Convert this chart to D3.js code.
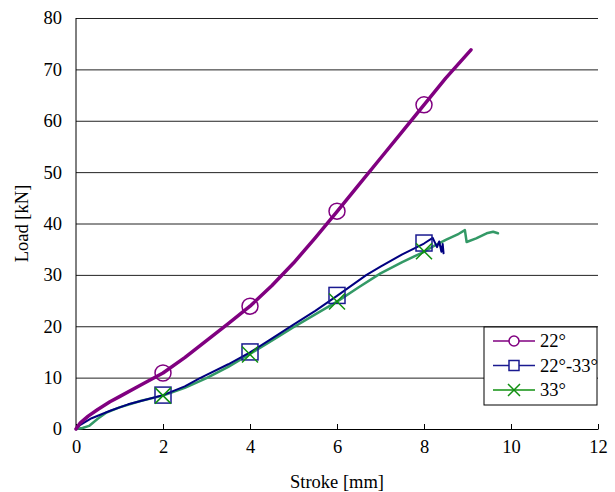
<!DOCTYPE html>
<html>
<head>
<meta charset="utf-8">
<script src="https://cdn.jsdelivr.net/npm/d3@7"></script>
<style>
  body { margin: 0; background: #fff; }
  svg text { font-family: "Liberation Serif", "Times New Roman", serif !important; }
</style>
</head>
<body>
<div id="chart"></div>
<script>
// series
const stroke22 = [0, 0.1, 0.28, 0.5, 0.78, 1.0, 1.5, 2.0, 2.5, 3.0, 3.5, 4.0, 4.5, 5.0, 5.5, 6.0, 6.5, 7.0, 7.5, 8.0, 8.5, 9.08];
const load22 = [0, 1.2, 2.5, 3.8, 5.3, 6.3, 8.6, 10.9, 13.9, 17.2, 20.5, 23.9, 27.9, 32.3, 37.2, 42.3, 47.5, 52.7, 57.9, 63.1, 68.3, 73.8];

const stroke2233 = [0, 0.1, 0.36, 0.8, 1.2, 1.6, 2.0, 2.5, 2.85, 3.5, 4.0, 4.5, 5.0, 5.5, 6.0, 6.68, 7.0, 7.5, 8.0, 8.2, 8.3, 8.35, 8.4, 8.43, 8.45];
const load2233 = [0, 0.8, 2.1, 3.6, 4.8, 5.7, 6.6, 8.3, 9.9, 12.6, 14.9, 17.6, 20.3, 23.0, 25.9, 30.0, 31.6, 34.0, 36.1, 37.2, 35.4, 36.5, 34.5, 36.0, 34.2];

const stroke33 = [0, 0.15, 0.3, 0.5, 0.7, 1.0, 1.5, 2.0, 2.5, 3.0, 3.5, 4.0, 4.5, 5.0, 5.5, 6.0, 6.5, 7.0, 7.5, 8.0, 8.2, 8.5, 8.8, 8.94, 8.98, 9.2, 9.44, 9.59, 9.7];
const load33 = [0, 0.2, 0.6, 2.0, 3.2, 4.2, 5.5, 6.5, 8.0, 9.9, 12.1, 14.6, 17.2, 19.8, 22.3, 24.8, 27.6, 30.3, 32.5, 34.5, 35.5, 36.8, 38.0, 38.7, 36.4, 37.1, 38.1, 38.4, 38.1];

const markerStroke = [2, 4, 6, 8];
const marker22 = [10.9, 23.9, 42.4, 63.1];
const marker2233 = [6.6, 15.0, 26.0, 36.2];
const marker33 = [6.5, 14.5, 24.8, 34.6];

const seriesNames = ["22°", "22°-33°", "33°"];
const xTicks = [0, 2, 4, 6, 8, 10, 12];
const yTicks = [0, 10, 20, 30, 40, 50, 60, 70, 80];

const width = 615;
const height = 492;
const margin = { top: 18, right: 17, bottom: 63, left: 76 };
const fontSize = "18.5px";

const svg = d3.select("#chart")
  .append("svg")
  .attr("width", width)
  .attr("height", height);

const x = d3.scaleLinear()
  .domain([0, 12])
  .range([margin.left, width - margin.right]);

const y = d3.scaleLinear()
  .domain([0, 80])
  .range([height - margin.bottom, margin.top]);

// gridlines + y labels
svg.append("g")
  .attr("transform", `translate(${margin.left},0)`)
  .call(d3.axisLeft(y).tickValues(yTicks).tickSize(-(width - margin.left - margin.right)).tickPadding(14))
  .call(g => g.select(".domain").remove())
  .call(g => g.selectAll(".tick line").attr("stroke", "#222"))
  .call(g => g.selectAll("text").attr("font-size", fontSize).attr("fill", "#000"));

// x axis
svg.append("g")
  .attr("transform", `translate(0,${height - margin.bottom})`)
  .call(d3.axisBottom(x).tickValues(xTicks).tickSizeInner(-5).tickSizeOuter(0).tickPadding(11))
  .call(g => g.select(".domain").attr("stroke", "#000"))
  .call(g => g.selectAll("text").attr("font-size", fontSize).attr("fill", "#000"));

// y axis line
svg.append("line")
  .attr("x1", x(0)).attr("x2", x(0))
  .attr("y1", y(0)).attr("y2", y(80))
  .attr("stroke", "#000");

const series = [
  { name: seriesNames[0], xs: stroke22, ys: load22, ms: marker22, line: "#800080", mark: "#800080", lw: 3.5, shape: "circle" },
  { name: seriesNames[1], xs: stroke2233, ys: load2233, ms: marker2233, line: "#000080", mark: "#1a1a90", lw: 2, shape: "square" },
  { name: seriesNames[2], xs: stroke33, ys: load33, ms: marker33, line: "#339966", mark: "#109010", lw: 2.5, shape: "cross" }
];

const line = d3.line().x(d => x(d[0])).y(d => y(d[1]));

// draw green first, then blue, then purple
[series[2], series[1], series[0]].forEach(s => {
  svg.append("path")
    .datum(d3.zip(s.xs, s.ys))
    .attr("fill", "none")
    .attr("stroke", s.line)
    .attr("stroke-width", s.lw)
    .attr("stroke-linejoin", "round")
    .attr("stroke-linecap", "round")
    .attr("d", line);
});

function drawMarker(g, shape, cx, cy, color) {
  if (shape === "circle") {
    g.append("circle").attr("cx", cx).attr("cy", cy).attr("r", 8)
      .attr("fill", "none").attr("stroke", color).attr("stroke-width", 1.5);
  } else if (shape === "square") {
    g.append("rect").attr("x", cx - 8).attr("y", cy - 8).attr("width", 16).attr("height", 16)
      .attr("fill", "none").attr("stroke", color).attr("stroke-width", 1.5);
  } else {
    g.append("path").attr("d", `M${cx - 8},${cy - 8}L${cx + 8},${cy + 8}M${cx - 8},${cy + 8}L${cx + 8},${cy - 8}`)
      .attr("fill", "none").attr("stroke", color).attr("stroke-width", 1.5);
  }
}

const markers = svg.append("g");
series.forEach(s => {
  markerStroke.forEach((v, i) => drawMarker(markers, s.shape, x(v), y(s.ms[i]), s.mark));
});

// legend
const legend = svg.append("g").attr("transform", "translate(484,327)");
legend.append("rect")
  .attr("width", 113).attr("height", 78)
  .attr("fill", "#fff").attr("stroke", "#000").attr("stroke-width", 1);
series.forEach((s, i) => {
  const ly = 14 + i * 24.5;
  legend.append("line")
    .attr("x1", 9).attr("x2", 51).attr("y1", ly).attr("y2", ly)
    .attr("stroke", s.mark).attr("stroke-width", 1.5);
  const g = legend.append("g");
  if (s.shape === "circle") {
    g.append("circle").attr("cx", 30).attr("cy", ly).attr("r", 5)
      .attr("fill", "#fff").attr("stroke", s.mark).attr("stroke-width", 1.5);
  } else if (s.shape === "square") {
    g.append("rect").attr("x", 25).attr("y", ly - 5).attr("width", 10).attr("height", 10)
      .attr("fill", "#fff").attr("stroke", s.mark).attr("stroke-width", 1.5);
  } else {
    g.append("path").attr("d", `M24,${ly - 6}L36,${ly + 6}M24,${ly + 6}L36,${ly - 6}`)
      .attr("stroke", s.mark).attr("stroke-width", 1.5);
  }
  legend.append("text")
    .attr("x", 56).attr("y", ly + 6)
    .attr("font-size", fontSize)
    .text(s.name);
});

// axis titles
svg.append("text")
  .attr("x", x(6)).attr("y", 488)
  .attr("text-anchor", "middle")
  .attr("font-size", fontSize)
  .text("Stroke [mm]");

svg.append("text")
  .attr("transform", `translate(28,${y(40)}) rotate(-90)`)
  .attr("text-anchor", "middle")
  .attr("font-size", fontSize)
  .text("Load [kN]");
</script>
</body>
</html>
